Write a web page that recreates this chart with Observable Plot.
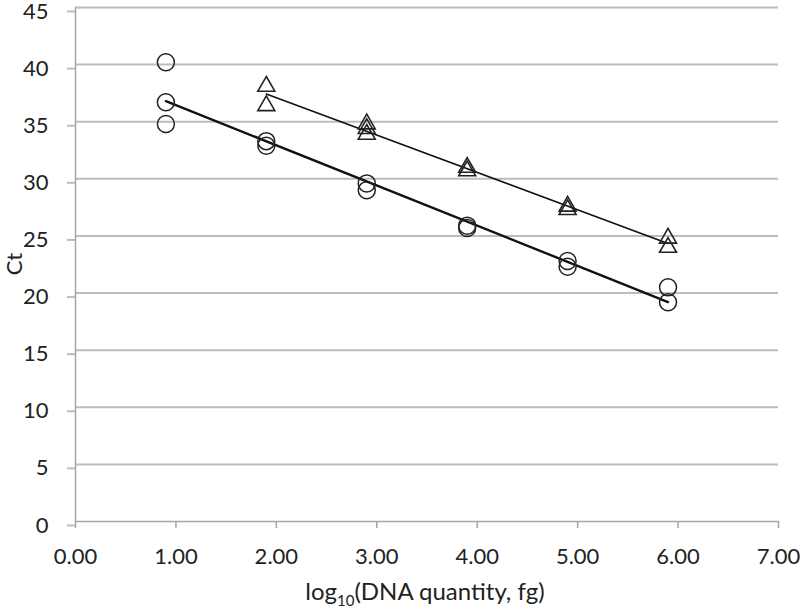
<!DOCTYPE html>
<html>
<head>
<meta charset="utf-8">
<script src="https://cdn.jsdelivr.net/npm/d3@7"></script>
<script src="https://cdn.jsdelivr.net/npm/@observablehq/plot@0.6"></script>
<style>
  html, body { margin: 0; padding: 0; background: #fff; }
  #chart svg { display: block; overflow: visible; }
</style>
</head>
<body>
<div id="chart"></div>
<script>
// Series 1 (circles)
const circleX = [0.9, 0.9, 0.9, 1.9, 1.9, 2.9, 2.9, 3.9, 3.9, 4.9, 4.9, 5.9, 5.9];
const circleY = [40.2, 36.7, 34.8, 33.3, 32.9, 29.6, 29.0, 25.9, 25.7, 22.8, 22.3, 20.5, 19.2];
// Series 2 (triangles)
const triX = [1.9, 1.9, 2.9, 2.9, 2.9, 3.9, 3.9, 4.9, 4.9, 5.9, 5.9];
const triY = [38.1, 36.4, 34.8, 34.4, 33.9, 31.0, 30.7, 27.6, 27.3, 24.8, 24.0];
// Axis ticks
const xTicks = [0, 1, 2, 3, 4, 5, 6, 7];
const yTicks = [0, 5, 10, 15, 20, 25, 30, 35, 40, 45];

const circles = circleX.map((x, i) => ({x, y: circleY[i]}));
const tris = triX.map((x, i) => ({x, y: triY[i]}));

const gridColor = "#bdbdbd";
const axisColor = "#a6a6a6";
const font = "Lato, sans-serif";

const plot = Plot.plot({
  width: 800,
  height: 613,
  marginLeft: 75,
  marginRight: 22,
  marginTop: 7,
  marginBottom: 92,
  style: {fontFamily: font, fontSize: "22px", background: "#fff", color: "#222", overflow: "visible"},
  x: {domain: [0, 7]},
  y: {domain: [0, 45]},
  marks: [
    Plot.gridY(yTicks.filter(d => d > 0), {stroke: gridColor, strokeOpacity: 1, strokeWidth: 2}),
    Plot.axisY({ticks: yTicks, tickSize: 8, tickPadding: 19, dy: 4, stroke: gridColor, strokeWidth: 2, label: null, tickFormat: d => String(d)}),
    Plot.ruleX([0], {stroke: axisColor, strokeWidth: 1.5}),
    Plot.ruleY([0], {stroke: axisColor, strokeWidth: 1.5}),
    Plot.axisX({ticks: xTicks, tickSize: 7, tickPadding: 20, stroke: axisColor, strokeWidth: 1.5, label: null, tickFormat: d3.format(".2f")}),
    Plot.linearRegressionY(circles, {x: "x", y: "y", ci: 0, stroke: "#111", strokeWidth: 2.4}),
    Plot.linearRegressionY(tris, {x: "x", y: "y", ci: 0, stroke: "#111", strokeWidth: 1.6}),
    Plot.dot(circles, {x: "x", y: "y", r: 8.5, symbol: "circle", stroke: "#222", strokeWidth: 1.5, fill: "none"}),
    Plot.dot(tris, {x: "x", y: "y", r: 6.3, symbol: "triangle", stroke: "#222", strokeWidth: 1.6, fill: "none"})
  ]
});

const svg = d3.select(plot);
// x-axis title with subscript
const xt = svg.append("text")
  .attr("x", 425)
  .attr("y", 600)
  .attr("text-anchor", "middle")
  .attr("fill", "#222")
  .style("font-family", font)
  .style("font-size", "24px");
xt.append("tspan").text("log");
xt.append("tspan").attr("dy", 6).style("font-size", "15px").text("10");
xt.append("tspan").attr("dy", -6).text("(DNA quantity, fg)");
// y-axis title
svg.append("text")
  .attr("transform", "translate(13,264) rotate(-90)")
  .attr("text-anchor", "middle")
  .attr("dominant-baseline", "central")
  .attr("fill", "#222")
  .style("font-family", font)
  .style("font-size", "22px")
  .text("Ct");

document.getElementById("chart").appendChild(plot);
</script>
</body>
</html>
